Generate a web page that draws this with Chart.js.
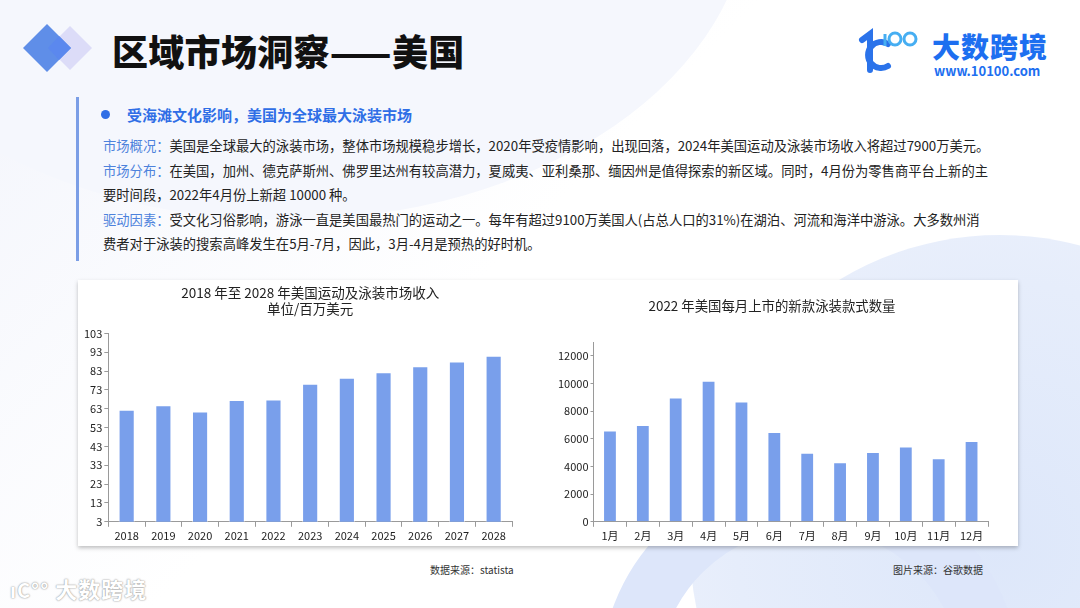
<!DOCTYPE html>
<html>
<head>
<meta charset="utf-8">
<script src="https://cdn.jsdelivr.net/npm/chart.js@4.4.0/dist/chart.umd.min.js"></script>
<style>
  body { margin: 0; }
  #page {
    position: relative; width: 1080px; height: 608px; overflow: hidden;
    background: linear-gradient(135deg, #f3f5fc 0%, #ffffff 45%, #ffffff 100%);
    font-family: "Noto Sans CJK SC", "Noto Sans", sans-serif;
  }
  .blob { position: absolute; border-radius: 50%; }
  .abs { position: absolute; white-space: nowrap; }
  #title { left: 112px; top: 24px; font-size: 36px; font-weight: 900; color: #111; letter-spacing: 0.3px; }
  .para { left: 103px; font-size: 13.3px; color: #222; }
  .para b { font-weight: 400; color: #4d82dc; }
  #panel {
    position: absolute; left: 78px; top: 280px; width: 940px; height: 266px;
    background: #fff; box-shadow: 0 2px 4px rgba(0,0,0,0.25);
  }
  canvas { position: absolute; }
  .src { font-size: 10px; color: #333; top: 562px; }
</style>
</head>
<body>
<div id="page">
  <div class="blob" style="left:690px; top:235px; width:620px; height:620px; background: radial-gradient(circle at 50% 50%, #dde7fa 0%, #e6edfb 60%, #eef2fc 100%);"></div>
  <div class="blob" style="left:-180px; top:-420px; width:930px; height:640px; background:#f5f7fd;"></div>
  <div class="blob" style="left:600px; top:470px; width:420px; height:420px; border:58px solid #dde6fa; box-sizing:border-box;"></div>

  <svg class="abs" style="left:0; top:0;" width="110" height="100">
    <polygon points="70,26 92,48 70,70 48,48" fill="#dcdcf8"/>
    <polygon points="47,24 71,48 47,72 23,48" fill="#5f8ee8"/>
    <polygon points="59,36 71,48 59,60 48,48" fill="#5b88ee"/>
  </svg>
  <div id="title" class="abs">区域市场洞察——美国</div>

  <svg class="abs" style="left:858px; top:26px;" width="80" height="50">
    <path d="M4 14 L12 8 L12 44" stroke="#2b73ea" stroke-width="6" fill="none" stroke-linecap="round"/>
    <path d="M30 18 A13 13 0 1 0 30 40" stroke="#2b73ea" stroke-width="6" fill="none" stroke-linecap="round"/>
    <path d="M27 8 L27 20" stroke="#46aef2" stroke-width="3" fill="none"/>
    <circle cx="37" cy="13" r="6" stroke="#46aef2" stroke-width="3" fill="none"/>
    <circle cx="52" cy="13" r="6" stroke="#46aef2" stroke-width="3" fill="none"/>
  </svg>
  <div class="abs" style="left:932px; top:26px; font-size:28px; font-weight:900; color:#1d6ff0; letter-spacing:1px;">大数跨境</div>
  <div class="abs" style="left:934px; top:61px; font-size:13px; font-weight:700; color:#1d6ff0;">www.10100.com</div>

  <div class="abs" style="left:76px; top:97px; width:3px; height:164px; background:#7b9ee6;"></div>
  <div class="abs" style="left:101px; top:110px; width:9px; height:9px; border-radius:50%; background:#2f6ee6;"></div>
  <div class="abs" style="left:127px; top:104px; font-size:15px; font-weight:700; color:#2f6ee6;">受海滩文化影响，美国为全球最大泳装市场</div>

  <div class="abs para" style="top:136px;"><b>市场概况：</b>美国是全球最大的泳装市场，整体市场规模稳步增长，2020年受疫情影响，出现回落，2024年美国运动及泳装市场收入将超过7900万美元。</div>
  <div class="abs para" style="top:161px;"><b>市场分布：</b>在美国，加州、德克萨斯州、佛罗里达州有较高潜力，夏威夷、亚利桑那、缅因州是值得探索的新区域。同时，4月份为零售商平台上新的主</div>
  <div class="abs para" style="top:185px;">要时间段，2022年4月份上新超 10000 种。</div>
  <div class="abs para" style="top:210px;"><b>驱动因素：</b>受文化习俗影响，游泳一直是美国最热门的运动之一。每年有超过9100万美国人(占总人口的31%)在湖泊、河流和海洋中游泳。大多数州消</div>
  <div class="abs para" style="top:234px;">费者对于泳装的搜索高峰发生在5月-7月，因此，3月-4月是预热的好时机。</div>

  <div id="panel"></div>
  <canvas id="revenue-chart" style="left:82px; top:282px;" width="436" height="262"></canvas>
  <canvas id="monthly-chart" style="left:556px; top:282px;" width="442" height="262"></canvas>

  <div class="abs src" style="left:430px;">数据来源：statista</div>
  <div class="abs src" style="left:893px;">图片来源：谷歌数据</div>

  <div class="abs" style="left:10px; top:572px; font-size:22px; font-weight:700; color:#fff; text-shadow:0 0 2px #999, 0 0 1px #aaa; letter-spacing:1px;">
    <span style="font-size:20px;">ıC°°</span> 大数跨境</div>
</div>

<script>
const years = ['2018', '2019', '2020', '2021', '2022', '2023', '2024', '2025', '2026', '2027', '2028'];
const revenue = [62.5, 64.9, 61.5, 67.6, 67.9, 76.3, 79.4, 82.4, 85.5, 88.1, 91.2];
const revenueTicks = [3, 13, 23, 33, 43, 53, 63, 73, 83, 93, 103];

const months = ['1月', '2月', '3月', '4月', '5月', '6月', '7月', '8月', '9月', '10月', '11月', '12月'];
const newStyles = [6600, 7000, 9000, 10200, 8700, 6500, 5000, 4300, 5050, 5450, 4600, 5850];
const newStylesTicks = [0, 2000, 4000, 6000, 8000, 10000, 12000];

const barColor = 'rgb(121, 159, 235)';
const axisColor = '#9a9a9a';
const tickFont = { size: 11, family: 'Noto Sans CJK SC' };

Chart.defaults.font.family = 'Noto Sans CJK SC';
Chart.defaults.color = '#222';

function axes(yMin, yMax, tickValues, yTickLength) {
    return {
        x: {
            offset: true,
            grid: { display: true, drawOnChartArea: false, offset: true, color: axisColor, tickLength: 5 },
            border: { color: axisColor },
            ticks: { font: tickFont, color: '#222', padding: 2, maxRotation: 0 }
        },
        y: {
            min: yMin,
            max: yMax,
            afterBuildTicks: axis => { axis.ticks = tickValues.map(v => ({ value: v })); },
            grid: { display: true, drawOnChartArea: false, color: axisColor, tickLength: yTickLength },
            border: { color: axisColor },
            ticks: { font: tickFont, color: '#222', padding: 2, callback: v => String(v) }
        }
    };
}

new Chart(document.getElementById('revenue-chart'), {
    type: 'bar',
    data: {
        labels: years,
        datasets: [{
            data: revenue,
            backgroundColor: barColor,
            borderColor: 'rgba(255,255,255,0.6)',
            borderWidth: 1,
            barPercentage: 0.44,
            categoryPercentage: 1
        }]
    },
    options: {
        responsive: false,
        animation: false,
        layout: { padding: { left: 0, right: 6, top: 0, bottom: 0 } },
        plugins: {
            legend: { display: false },
            tooltip: { enabled: false },
            title: {
                display: true,
                fullSize: false,
                text: ['2018 年至 2028 年美国运动及泳装市场收入', '单位/百万美元'],
                font: { size: 13.5, weight: 'normal' },
                color: '#222',
                padding: { top: 3, bottom: 16 },
                lineHeight: 1.2
            }
        },
        scales: axes(3, 103, revenueTicks, 4)
    }
});

new Chart(document.getElementById('monthly-chart'), {
    type: 'bar',
    data: {
        labels: months,
        datasets: [{
            data: newStyles,
            backgroundColor: barColor,
            borderColor: 'rgba(255,255,255,0.6)',
            borderWidth: 1,
            barPercentage: 0.42,
            categoryPercentage: 1
        }]
    },
    options: {
        responsive: false,
        animation: false,
        layout: { padding: { left: 0, right: 10, top: 0, bottom: 0 } },
        plugins: {
            legend: { display: false },
            tooltip: { enabled: false },
            title: {
                display: true,
                text: '2022 年美国每月上市的新款泳装款式数量',
                font: { size: 13.4, weight: 'normal' },
                color: '#222',
                padding: { top: 16, bottom: 28 }
            }
        },
        scales: axes(0, 13000, newStylesTicks, 3)
    }
});
</script>
</body>
</html>
